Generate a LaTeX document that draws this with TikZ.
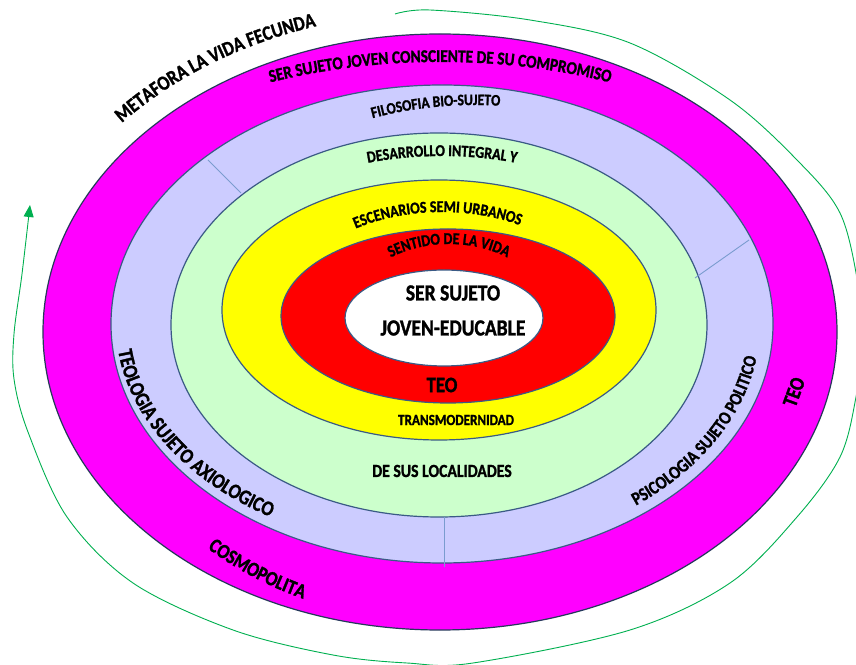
\documentclass[tikz,border=0pt]{standalone}
\usepackage{fontspec}
\newfontfamily\labfont[FakeStretch=0.85,FakeBold=1.3]{Carlito}
\usetikzlibrary{decorations.text,arrows.meta}
\definecolor{ringmag}{HTML}{FF00FF}
\definecolor{ringlav}{HTML}{CCCCFF}
\definecolor{ringgrn}{HTML}{CCFFCC}
\definecolor{ringyel}{HTML}{FFFF00}
\definecolor{ringred}{HTML}{FF0000}
\definecolor{edgec}{HTML}{3A5A85}
\definecolor{edgedark}{HTML}{25385A}
\definecolor{divline}{HTML}{7A9CCF}
\definecolor{arrowgrn}{HTML}{00B050}
% #1 centre, #2 rx, #3 ry, #4 start, #5 end, #6 size, #7 text
\newcommand\arclabel[7]{%
 \path[decorate,decoration={text along path,text align=center,text color=black,
   text={|\labfont\bfseries\fontsize{#6}{#6}\selectfont|#7}}]
   (#1) ++(#4:#2pt and #3pt) arc[start angle=#4,end angle=#5,x radius=#2pt,y radius=#3pt];
}
% #1 name, #2 position, #3 size, #4 rotation, #5 text
\newcommand\flatlabel[5]{%
 \node[lab,font=\labfont\bfseries\fontsize{#3}{#3}\selectfont,rotate=#4] (#1) at (#2) {#5};
}
\tikzset{
  ring/.style={draw=edgec,line width=1.2pt},
  lab/.style={text=black,inner sep=0pt},
  divider/.style={draw=divline,line width=0.9pt},
  cycle arrow/.style={draw=arrowgrn,line width=0.9pt,-{Triangle[length=12pt,width=10pt,fill=arrowgrn]}}
}
\begin{document}
\begin{tikzpicture}[x=1pt,y=1pt]
\useasboundingbox (0,0) rectangle (856,664);
\fill[white] (0,0) rectangle (856,664);

% rings
\path[ring,draw=edgedark,fill=ringmag] (440,332) ellipse [x radius=397pt,y radius=298pt];
\path[ring,fill=ringlav] (442,340) ellipse [x radius=331pt,y radius=239pt];
\path[ring,fill=ringgrn] (439,339) ellipse [x radius=268pt,y radius=192pt];
\path[ring,fill=ringyel] (439,354) ellipse [x radius=217pt,y radius=130pt];
\path[ring,fill=ringred] (448,348) ellipse [x radius=167pt,y radius=87pt];
\path[ring,fill=white] (444,346) ellipse [x radius=99pt,y radius=48pt];

% dividers in the lavender ring
\coordinate (d1a) at (208,504); \coordinate (d1b) at (241,471);
\coordinate (d2a) at (695,386); \coordinate (d2b) at (749,424);
\coordinate (d3a) at (444,147); \coordinate (d3b) at (444,97);
\draw[divider] (d1a) -- (d1b);
\draw[divider] (d2a) -- (d2b);
\draw[divider] (d3a) -- (d3b);

% green cycle arrow
\draw[cycle arrow] plot[smooth,tension=0.55] coordinates {
 (395,650) (430,654) (530,644) (630,621) (730,564) (797,504) (840,451)
 (858,380) (863,324) (856,267) (840,207) (797,147) (730,81) (630,34)
 (473,1) (407,1) (333,9) (233,34) (133,81) (67,147) (28,232) (14,285)
 (14,330) (22,390) (30,459)};

% curved labels
\arclabel{440,332}{420}{320}{161}{89}{20.5}{METAFORA LA VIDA FECUNDA}
\arclabel{440,340}{438}{262}{150}{30}{18}{SER SUJETO JOVEN CONSCIENTE DE SU COMPROMISO}
\arclabel{475,340}{300}{219}{128}{68}{16}{FILOSOFIA BIO-SUJETO}
\arclabel{442,339}{263}{169}{125}{55}{16.5}{DESARROLLO INTEGRAL Y}
\arclabel{442,354}{155}{98}{137}{47}{16.5}{ESCENARIOS SEMI URBANOS}
\arclabel{449,348}{100}{72}{150}{30}{16.5}{SENTIDO DE LA VIDA}
\arclabel{442,340}{326}{227}{168}{252}{21}{TEOLOGIA SUJETO AXIOLOGICO}
\arclabel{442,340}{318}{229}{-72}{17}{18.5}{PSICOLOGIA SUJETO POLITICO}
\arclabel{440,332}{349}{290}{214}{260}{20.5}{COSMOPOLITA}

% straight labels
\flatlabel{core1}{453,371}{23}{0}{SER SUJETO}
\flatlabel{core2}{453,336}{23}{0}{JOVEN-EDUCABLE}
\flatlabel{teored}{442,279}{22}{0}{TEO}
\flatlabel{transm}{456,244}{15.5}{0}{TRANSMODERNIDAD}
\flatlabel{locs}{442,193}{18.5}{0}{DE SUS LOCALIDADES}
\flatlabel{teomag}{794,272}{21}{70}{TEO}
\end{tikzpicture}
\end{document}
